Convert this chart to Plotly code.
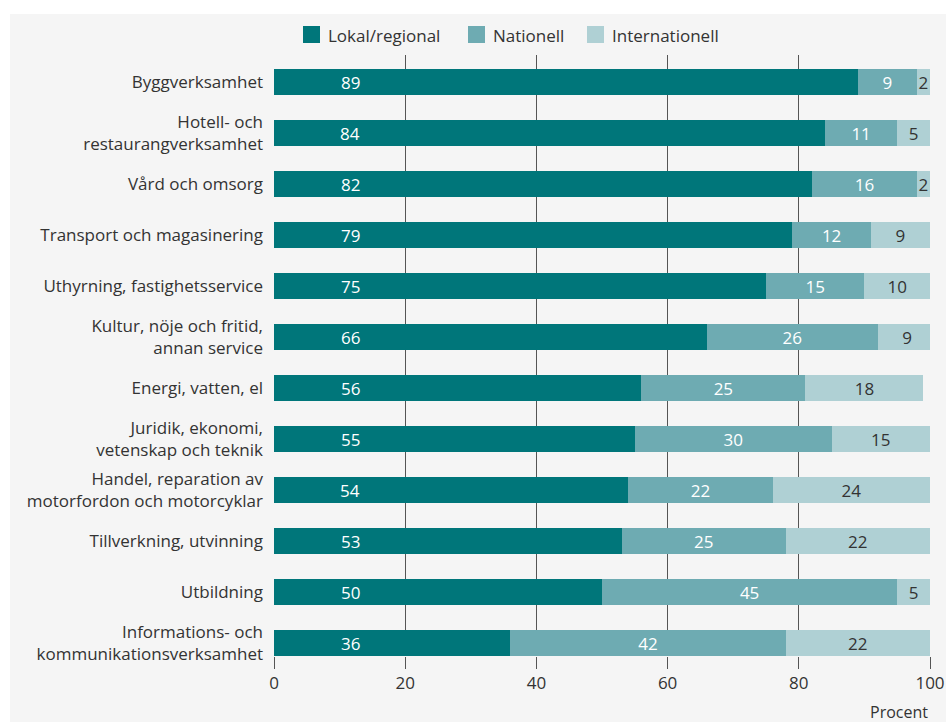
import plotly.graph_objects as go

# Branscher (top to bottom) and share of customers by market, in percent
branscher = [
    "Byggverksamhet",
    "Hotell- och<br>restaurangverksamhet",
    "Vård och omsorg",
    "Transport och magasinering",
    "Uthyrning, fastighetsservice",
    "Kultur, nöje och fritid,<br>annan service",
    "Energi, vatten, el",
    "Juridik, ekonomi,<br>vetenskap och teknik",
    "Handel, reparation av<br>motorfordon och motorcyklar",
    "Tillverkning, utvinning",
    "Utbildning",
    "Informations- och<br>kommunikationsverksamhet",
]
lokal = [89, 84, 82, 79, 75, 66, 56, 55, 54, 53, 50, 36]
nationell = [9, 11, 16, 12, 15, 26, 25, 30, 22, 25, 45, 42]
internationell = [2, 5, 2, 9, 10, 9, 18, 15, 24, 22, 5, 22]

serie_namn = ["Lokal/regional", "Nationell", "Internationell"]
x_ticks = [0, 20, 40, 60, 80, 100]

C_LOKAL = "#00767a"
C_NAT = "#6eabb2"
C_INT = "#afd0d4"
TXT = "#333333"
FONT = "Open Sans"
FS = 17

L, R, T, B = 274, 16, 55, 66
W, H = 946, 722
pw, ph = W - L - R, H - T - B


def px_x(px):
    return (px - L) / pw


def px_y(py):
    return 1 - (py - T) / ph


fig = go.Figure()
fig.add_trace(go.Bar(
    y=branscher, x=lokal, name=serie_namn[0], orientation="h",
    marker=dict(color=C_LOKAL, line=dict(width=0)), width=0.5,
))
fig.add_trace(go.Bar(
    y=branscher, x=nationell, name=serie_namn[1], orientation="h",
    marker=dict(color=C_NAT, line=dict(width=0)), width=0.5,
    text=[str(v) for v in nationell], textposition="inside",
    insidetextanchor="middle", textangle=0,
    textfont=dict(color="white", size=FS, family=FONT),
))
fig.add_trace(go.Bar(
    y=branscher, x=internationell, name=serie_namn[2], orientation="h",
    marker=dict(color=C_INT, line=dict(width=0)), width=0.5,
    text=[str(v) for v in internationell], textposition="inside",
    insidetextanchor="middle", textangle=0,
    textfont=dict(color=TXT, size=FS, family=FONT),
))

# Local/regional values are printed at a fixed position near the start of each bar
annotations = [
    dict(x=11.6, y=b, xref="x", yref="y", text=str(v), showarrow=False,
         font=dict(color="white", size=FS, family=FONT),
         xanchor="center", yanchor="middle")
    for b, v in zip(branscher, lokal)
]
annotations.append(dict(
    x=1, y=px_y(712), xref="paper", yref="paper", text="Procent", showarrow=False,
    xanchor="right", yanchor="middle", font=dict(color=TXT, size=16, family=FONT),
))

# Legend: square swatch followed by the series name
shapes = [dict(
    type="rect", xref="paper", yref="paper", layer="below",
    x0=px_x(10), x1=px_x(W + 5), y0=px_y(H + 5), y1=px_y(14),
    fillcolor="#f5f5f5", line=dict(width=0),
)]
legend_x = [303, 468, 587]
for x0, namn, col in zip(legend_x, serie_namn, [C_LOKAL, C_NAT, C_INT]):
    shapes.append(dict(
        type="rect", xref="paper", yref="paper",
        x0=px_x(x0), x1=px_x(x0 + 17), y0=px_y(43), y1=px_y(26),
        fillcolor=col, line=dict(width=0),
    ))
    annotations.append(dict(
        x=px_x(x0 + 23), y=px_y(35), xref="paper", yref="paper", text=namn,
        showarrow=False, xanchor="left", yanchor="middle",
        font=dict(color=TXT, size=FS, family=FONT),
    ))

fig.update_layout(
    width=W, height=H,
    margin=dict(l=L, r=R, t=T, b=B, autoexpand=False),
    barmode="stack",
    paper_bgcolor="white",
    plot_bgcolor="rgba(0,0,0,0)",
    font=dict(family=FONT, size=FS, color=TXT),
    uniformtext=dict(minsize=FS, mode="show"),
    showlegend=False,
    xaxis=dict(
        range=[0, 100], tickvals=x_ticks, ticks="outside", ticklen=12,
        tickcolor="#555555", tickwidth=1,
        showgrid=True, gridcolor="#555555", gridwidth=1,
        zeroline=False, showline=False, automargin=False,
        tickfont=dict(size=FS, family=FONT, color=TXT),
        fixedrange=True,
    ),
    yaxis=dict(
        categoryorder="array", categoryarray=branscher,
        range=[11.25, -0.53], showgrid=False, zeroline=False,
        ticks="", ticklabelstandoff=10, automargin=False,
        tickfont=dict(size=FS, family=FONT, color=TXT),
    ),
    annotations=annotations,
    shapes=shapes,
)

fig.write_html("out.html")
